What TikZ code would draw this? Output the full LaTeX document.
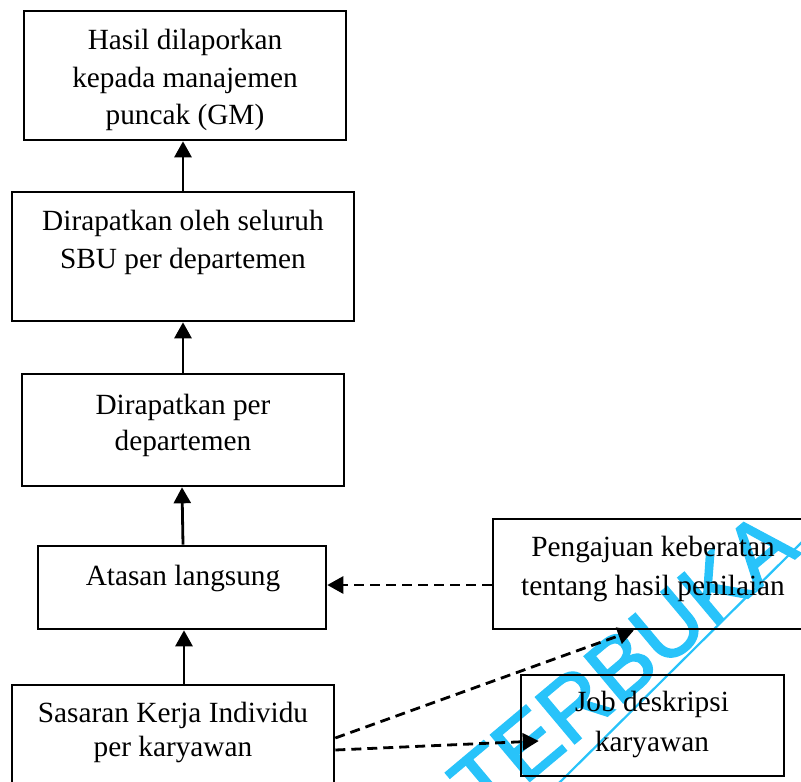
\documentclass[tikz,border=0pt]{standalone}
\usepackage{fontspec}
\setmainfont{Liberation Serif}
\newfontfamily\wmfont[FakeBold=2]{Liberation Sans}
\usetikzlibrary{arrows.meta,calc}
\definecolor{wmcyan}{RGB}{40,195,250}
\begin{document}
\begin{tikzpicture}[x=1pt,y=-1pt,
  box/.style={draw, line width=2.6pt, inner sep=0pt},
  lbl/.style={align=center, inner sep=0pt, font=\fontsize{29.3}{#1}\selectfont},
  lbl/.default=37.5,
  arr/.style={line width=2.8pt, -{Triangle[width=17pt,length=16pt]}},
  darr/.style={arr, dash pattern=on 10pt off 6pt},
  wm/.style={text=wmcyan, font=\wmfont\fontsize{88}{88}\selectfont, inner sep=0pt}]
\useasboundingbox (0,0) rectangle (801,782);
% watermark
\node[wm, rotate=40] (wmtext) at (623,664) {TERBUKA};
\coordinate (wmA) at (556,786);
\coordinate (wmB) at (805,539);
\draw[wmcyan, line width=2.2pt] (wmA) -- (wmB);
% boxes
\node[box, minimum width=322pt, minimum height=129pt] (b1) at (185,75.5) {};
\node[box, minimum width=342pt, minimum height=129pt] (b2) at (183,256.5) {};
\node[box, minimum width=322pt, minimum height=112pt] (b3) at (183,430) {};
\node[box, minimum width=288pt, minimum height=83pt] (b4) at (182,587.5) {};
\node[box, minimum width=322pt, minimum height=110pt] (b5) at (173,740) {};
\node[box, minimum width=314pt, minimum height=110pt] (b6) at (650,574) {};
\node[box, minimum width=263pt, minimum height=101pt] (b7) at (652.5,725.5) {};
% labels
\node[lbl] (t1) at (185,80) {Hasil dilaporkan\\kepada manajemen\\puncak (GM)};
\node[lbl=38] (t2) at (183,242) {Dirapatkan oleh seluruh\\SBU per departemen};
\node[lbl=35.5] (t3) at (183,425.5) {Dirapatkan per\\departemen};
\node[lbl] (t4) at (183,578) {Atasan langsung};
\node[lbl=33.5] (t5) at (173,732.5) {Sasaran Kerja Individu\\per karyawan};
\node[lbl=39] (t6) at (653,568.5) {Pengajuan keberatan\\tentang hasil penilaian};
\node[lbl=40] (t7) at (652,724) {Job deskripsi\\karyawan};
% connectors
\draw[arr] (b2.north -| 183,0) -- (b1.south -| 183,0);
\draw[arr] (b3.north) -- (b3.north |- b2.south);
\draw[arr] (b4.north -| 183,0) -- (b4.north |- b3.south);
\draw[arr] (b5.north -| 184,0) -- (b4.south -| 184,0);
\draw[darr] (b6.west |- 0,585) -- (b4.east |- 0,585);
\coordinate (e6) at ($(b6.south west)!0.449!(b6.south east)$);
\draw[darr] ($(b5.east)+(0,-2)$) -- (e6);
\coordinate (e7) at ($(b7.west)+(19,15.5)$);
\draw[darr] ($(b5.east)+(0,10)$) -- (e7);
\end{tikzpicture}
\end{document}
